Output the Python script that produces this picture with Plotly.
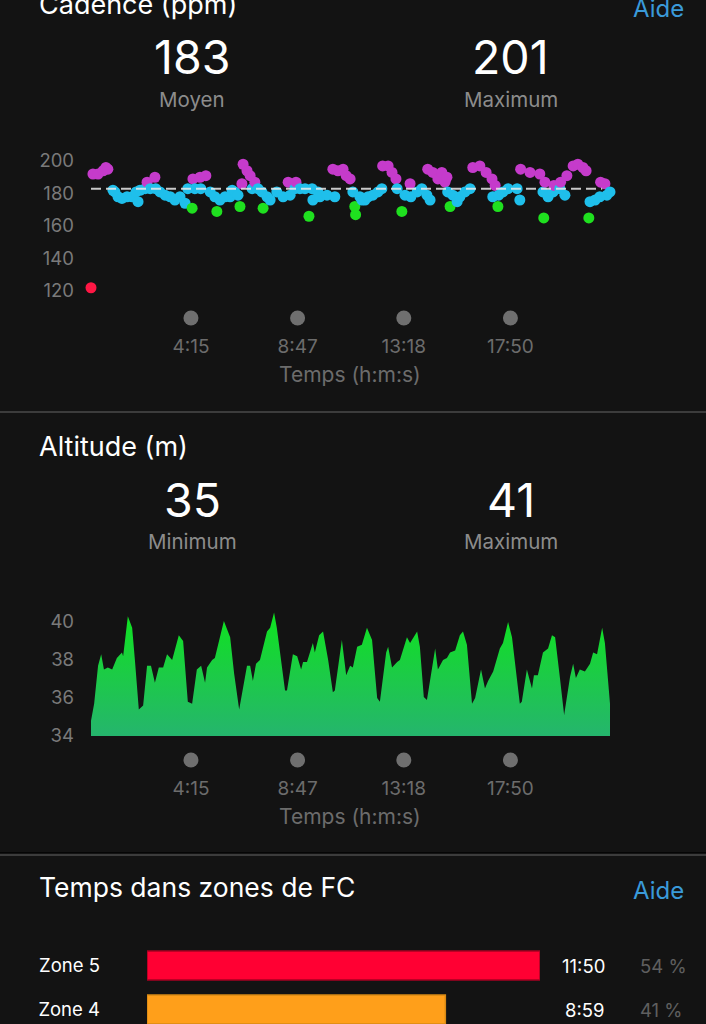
import plotly.graph_objects as go

W, H = 706, 1024
BG = "#131313"
FONT = "Inter"

# ---------------- data ----------------
cad_t = [0, 5, 18, 31, 38, 43, 56, 61, 69, 79,
         92, 105, 115, 120, 125, 138, 143, 151, 163, 165,
         176, 189, 202, 214, 227, 240, 247, 258, 260, 265,
         278, 280, 293, 304, 316, 321, 329, 342, 355, 360,
         367, 375, 380, 385, 388, 398, 406, 411, 418, 426,
         436, 439, 449, 457, 474, 490, 503, 508, 520, 523,
         533, 546, 556, 564, 566, 579, 584, 602, 617, 622,
         630, 643, 651, 661, 668, 673, 675, 686, 691, 699,
         707, 719, 732, 742, 744, 758, 768, 778, 781, 793,
         801, 814, 816, 832, 844, 857, 859, 865, 872, 885,
         895, 903, 908, 910, 916, 923, 934, 941, 954, 967,
         974, 992, 1008, 1023, 1025, 1031, 1038, 1040, 1051, 1064,
         1087, 1094, 1096, 1120, 1125, 1145, 1153, 1155, 1158, 1166,
         1179, 1181, 1196, 1198, 1209, 1214, 1230, 1242, 1255, 1263,
         1270, 1273, 1286, 1298, 1300, 1311, 1316, 1324]
cad_v = [122, 192, 192, 194, 196, 195, 182, 181, 178, 177,
         178, 178, 181, 175, 182, 183, 187, 183, 190, 183,
         181, 179, 178, 176, 178, 174, 183, 171, 189, 183,
         190, 183, 191, 181, 178, 169, 176, 178, 178, 182,
         181, 179, 172, 186, 198, 194, 191, 183, 187, 183,
         181, 171, 178, 176, 181, 178, 187, 179, 183, 187,
         183, 183, 166, 183, 176, 181, 178, 179, 195, 178,
         194, 195, 191, 189, 181, 172, 167, 178, 176, 176,
         178, 179, 181, 183, 197, 197, 193, 189, 183, 169,
         179, 186, 178, 181, 183, 179, 195, 176, 193, 189,
         193, 187, 190, 181, 172, 179, 175, 178, 181, 183,
         196, 197, 193, 189, 178, 185, 172, 179, 181, 183,
         183, 176, 195, 193, 201, 192, 181, 165, 187, 178,
         181, 185, 183, 187, 179, 191, 197, 198, 196, 194,
         165, 175, 176, 178, 187, 186, 179, 181]
cad_avg = 183
cad_max = 201

alt_t = [0, 8, 18, 26, 33, 43, 54, 66, 79, 82,
         94, 105, 112, 122, 133, 143, 153, 163, 173, 184,
         194, 207, 224, 235, 247, 258, 270, 281, 291, 296,
         309, 316, 339, 355, 365, 378, 398, 406, 413, 421,
         431, 449, 457, 467, 474, 495, 500, 515, 526, 536,
         541, 551, 566, 571, 582, 592, 605, 617, 622, 640,
         651, 661, 668, 679, 691, 704, 717, 730, 737, 753,
         758, 768, 781, 788, 806, 814, 832, 839, 849, 857,
         878, 885, 898, 908, 916, 929, 941, 949, 959, 972,
         980, 995, 1005, 1013, 1026, 1043, 1051, 1064, 1074, 1094,
         1099, 1112, 1117, 1125, 1130, 1140, 1153, 1166, 1176, 1184,
         1196, 1207, 1222, 1230, 1237, 1247, 1260, 1273, 1281, 1291,
         1304, 1311, 1324]
alt_v = [34.8, 35.7, 37.7, 38.3, 37.5, 37.6, 37.5, 38.1, 38.4, 38.2,
         40.3, 39.7, 38.0, 35.4, 35.6, 37.7, 37.7, 36.8, 37.6, 37.6,
         38.3, 38.0, 39.3, 39.0, 35.8, 35.7, 37.5, 37.7, 36.8, 37.6,
         38.0, 38.1, 40.05, 39.2, 37.3, 35.4, 37.7, 37.7, 36.9, 37.8,
         38.0, 39.5, 39.7, 40.5, 39.7, 36.4, 36.4, 38.3, 38.2, 37.5,
         37.9, 37.9, 38.9, 38.4, 39.3, 39.5, 38.0, 36.3, 36.4, 39.05,
         37.2, 37.7, 37.6, 38.7, 38.8, 39.7, 39.05, 36.0, 35.8, 38.4,
         38.7, 37.6, 37.9, 38.0, 39.2, 38.9, 39.5, 38.7, 36.05, 35.9,
         38.6, 37.5, 38.0, 38.1, 38.4, 38.5, 39.3, 39.5, 38.8, 35.7,
         36.0, 37.5, 36.5, 36.9, 37.4, 38.6, 38.9, 40.0, 39.2, 35.7,
         35.8, 37.5, 37.1, 36.5, 37.2, 37.2, 38.4, 38.6, 39.3, 39.2,
         37.1, 35.1, 37.1, 37.8, 37.05, 37.5, 37.4, 37.8, 38.4, 38.3,
         39.7, 38.9, 35.7]
alt_min = 35
alt_max = 41

tick_secs = [255, 527, 798, 1070]
tick_text = ["4:15", "8:47", "13:18", "17:50"]

zones = ["Zone 5", "Zone 4"]
zone_secs = [710, 539]
zone_time_text = ["11:50", "8:59"]
zone_pct = [54, 41]
zone_colors = ["#ff0033", "#ff9f1a"]
zone_borders = ["#a80022", "#d98a14"]

cad_yticks = [120, 140, 160, 180, 200]
alt_yticks = [34, 36, 38, 40]


def cad_color(v):
    if v >= 184:
        return "#c53bcb"
    if v >= 174:
        return "#1fbfeb"
    if v >= 164:
        return "#1fe01f"
    if v >= 153:
        return "#ff8c1a"
    return "#ff1744"


def px(x):
    return x / W


def py(y):
    return 1 - y / H


fig = go.Figure()

# cadence scatter
fig.add_trace(go.Scatter(
    x=cad_t, y=cad_v, mode="markers", xaxis="x", yaxis="y",
    marker=dict(size=11, color=[cad_color(v) for v in cad_v], line=dict(width=0)),
    cliponaxis=False, hoverinfo="skip"))

# cadence tick dots
fig.add_trace(go.Scatter(
    x=tick_secs, y=[0] * len(tick_secs), mode="markers", xaxis="x2", yaxis="y2",
    marker=dict(size=15, color="#6f6f6f"), cliponaxis=False, hoverinfo="skip"))

# altitude area
fig.add_trace(go.Scatter(
    x=alt_t, y=alt_v, mode="lines", xaxis="x3", yaxis="y3",
    line=dict(width=0, color="#12d830"), fill="tozeroy",
    fillgradient=dict(type="vertical", start=34, stop=40.5,
                      colorscale=[[0, "#25b56d"], [0.5, "#1ccb46"], [1, "#0ee41f"]]),
    hoverinfo="skip"))

# altitude tick dots
fig.add_trace(go.Scatter(
    x=tick_secs, y=[0] * len(tick_secs), mode="markers", xaxis="x4", yaxis="y4",
    marker=dict(size=15, color="#6f6f6f"), cliponaxis=False, hoverinfo="skip"))

# zones bars
fig.add_trace(go.Bar(
    x=zone_secs, y=zones, orientation="h", xaxis="x5", yaxis="y5",
    width=0.66, marker=dict(color=zone_colors, line=dict(color=zone_borders, width=1.5)),
    hoverinfo="skip"))

XD = [px(91), px(610)]
hidden = dict(showgrid=False, zeroline=False, showline=False, showticklabels=False,
              ticks="", fixedrange=True, automargin=False)
YTF = dict(size=18.5, color="#7a7a7a", family=FONT)
XTF = dict(size=19, color="#6c6c6c", family=FONT)
base = dict(showgrid=False, zeroline=False, showline=False, ticks="", automargin=False,
            fixedrange=True)

fig.update_layout(
    template="none",
    width=W, height=H, autosize=False, margin=dict(l=0, r=0, t=0, b=0, pad=0),
    paper_bgcolor=BG, plot_bgcolor=BG, showlegend=False,
    font=dict(family=FONT, color="#ffffff"),
    xaxis=dict(domain=XD, range=[0, 1324], anchor="y", **hidden),
    yaxis=dict(domain=[py(291), py(161)], range=[120, 200], anchor="x",
               tickvals=cad_yticks, ticklabelstandoff=16, tickfont=YTF, **base),
    xaxis2=dict(domain=XD, range=[0, 1324], anchor="y2", matches="x",
                tickvals=tick_secs, ticktext=tick_text, ticklabelstandoff=7,
                tickfont=XTF, **base),
    yaxis2=dict(domain=[py(326), py(310)], range=[-1, 1], anchor="x2", **hidden),
    xaxis3=dict(domain=XD, range=[0, 1324], anchor="y3", **hidden),
    yaxis3=dict(domain=[py(736), py(603)], range=[34, 41], anchor="x3",
                tickvals=alt_yticks, ticklabelstandoff=16, tickfont=YTF, **base),
    xaxis4=dict(domain=XD, range=[0, 1324], anchor="y4", matches="x3",
                tickvals=tick_secs, ticktext=tick_text, ticklabelstandoff=7,
                tickfont=XTF, **base),
    yaxis4=dict(domain=[py(768), py(752)], range=[-1, 1], anchor="x4", **hidden),
    xaxis5=dict(domain=[px(147), px(540)], range=[0, max(zone_secs)], anchor="y5", **hidden),
    yaxis5=dict(domain=[0, py(943.5)], range=[-0.3295, 1.5], anchor="x5", type="category",
                categoryorder="array", categoryarray=list(reversed(zones)),
                ticklabelstandoff=46, tickfont=dict(size=18.5, color="#ffffff", family=FONT),
                **base),
)

# average dashed line
fig.add_shape(type="line", xref="x domain", yref="y", x0=0, x1=0.985, y0=cad_avg, y1=cad_avg,
              line=dict(color="rgba(235,235,235,0.85)", width=2, dash="10px,5px"), layer="above")

# separators
for sy in (412, 855):
    fig.add_shape(type="line", xref="paper", yref="paper", x0=0, x1=1, y0=py(sy), y1=py(sy),
                  line=dict(color="#3c3c3c", width=2))
fig.add_shape(type="line", xref="paper", yref="paper", x0=0, x1=1, y0=py(852.5), y1=py(852.5),
              line=dict(color="#050505", width=1))


def ann(text, x, y, size, color="#ffffff", xanchor="center", yanchor="middle"):
    fig.add_annotation(text=text, x=px(x), y=py(y), xref="paper", yref="paper",
                       xanchor=xanchor, yanchor=yanchor, showarrow=False,
                       font=dict(size=size, color=color, family=FONT))


GREY = "#8c8c8c"
BLUE = "#3a9ad9"
NUM = 46.5
LAB = 20.5
# Cadence section
ann("Cadence (ppm)", 37, 4, 27, xanchor="left")
ann("Aide", 686, 8, 24, BLUE, xanchor="right")
ann(str(cad_avg), 192, 57, NUM)
ann("Moyen", 192, 99, LAB, GREY)
ann(str(cad_max), 511, 57, NUM)
ann("Maximum", 511, 99, LAB, GREY)
ann("Temps (h:m:s)", 350, 374, 21, "#6c6c6c")

# Altitude section
ann("Altitude (m)", 37, 446, 27, xanchor="left")
ann(str(alt_min), 192, 499.5, NUM)
ann("Minimum", 192, 541.5, LAB, GREY)
ann(str(alt_max), 511, 499.5, NUM)
ann("Maximum", 511, 541.5, LAB, GREY)
ann("Temps (h:m:s)", 350, 816, 21, "#6c6c6c")

# HR zones section
ann("Temps dans zones de FC", 37, 887, 26.5, xanchor="left")
ann("Aide", 686, 890, 24, BLUE, xanchor="right")
for z, tt, pc in zip(zones, zone_time_text, zone_pct):
    fig.add_annotation(text=tt, x=px(607), y=z, xref="paper", yref="y5", xanchor="right",
                       showarrow=False, font=dict(size=18.5, color="#ffffff", family=FONT))
    fig.add_annotation(text=f"{pc} %", x=px(638), y=z, xref="paper", yref="y5", xanchor="left",
                       showarrow=False, font=dict(size=18.5, color="#5f5f5f", family=FONT))

fig.write_html("out.html")
